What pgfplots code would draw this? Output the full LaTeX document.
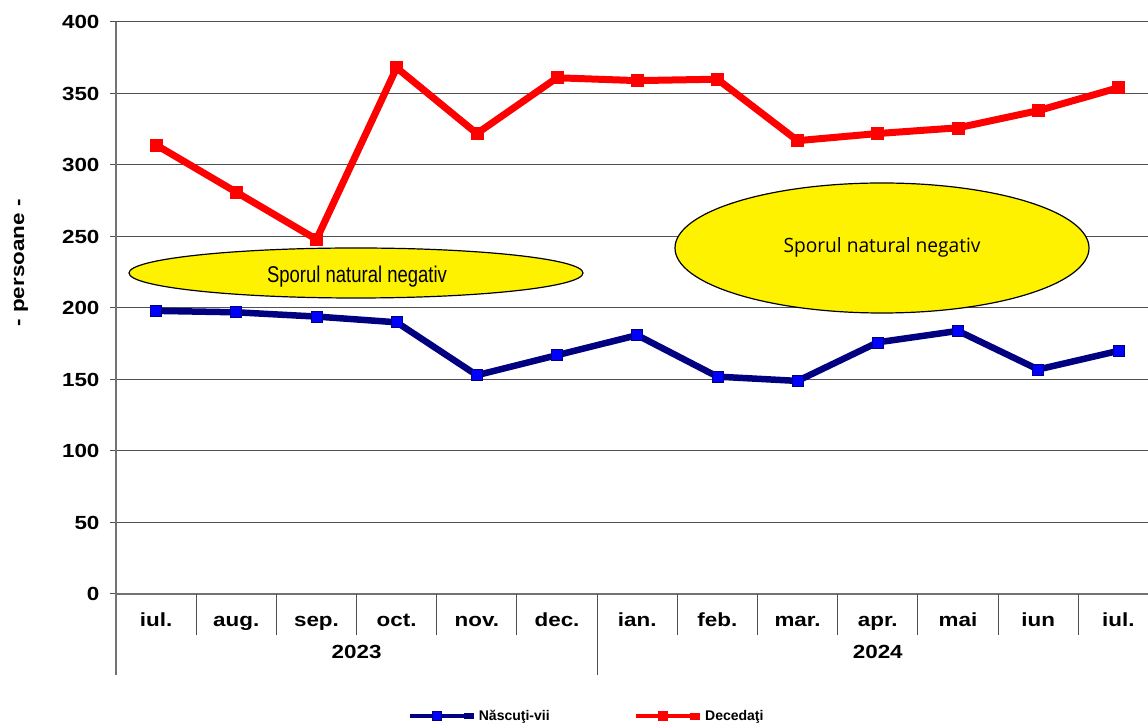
\documentclass[border=0pt]{standalone}
\usepackage{pgfplots}
\pgfplotsset{compat=1.18}
\usepackage{fontspec}
\setmainfont{Liberation Sans}
\newfontfamily\opensans{Open Sans}
\usepackage{graphicx}
\definecolor{navyb}{HTML}{000080}
\definecolor{gridc}{HTML}{505050}
\newcommand{\wide}[1]{\scalebox{1.18}[1]{#1}}
\begin{document}
\begin{tikzpicture}[x=1pt,y=1pt]
\path[use as bounding box] (0,0) rectangle (1148,725);
\begin{axis}[
  at={(116pt,131pt)}, anchor=south west,
  scale only axis, width=1032pt, height=572pt,
  xmin=-0.5, xmax=12.37, ymin=0, ymax=400,
  axis lines=left, axis line style={-, draw=gray!90!black, line width=1.8pt},
  ytick={0,50,...,400},
  ymajorgrids, grid style={gridc, line width=1pt},
  tick align=outside, ytick style={gridc, line width=1pt}, major tick length=6pt,
  yticklabel={\wide{\pgfmathprintnumber{\tick}}},
  yticklabel style={xshift=-7pt},
  xtick={0,...,12},
  xticklabels={\wide{iul.},\wide{aug.},\wide{sep.},\wide{oct.},\wide{nov.},\wide{dec.},\wide{ian.},\wide{feb.},\wide{mar.},\wide{apr.},\wide{mai},\wide{iun},\wide{iul.}},
  xtick style={draw=none},
  ticklabel style={font=\bfseries\fontsize{19}{22}\selectfont},
  xticklabel style={anchor=base, inner sep=0pt, yshift=-26pt},
  /pgf/number format/assume math mode=true,
  clip=false,
  legend style={at={(0.456,-0.2133)}, anchor=center, draw=none, fill=none,
    font=\bfseries\fontsize{14}{16}\selectfont, legend columns=2,
    /tikz/every even column/.append style={column sep=82pt},
    nodes={inner sep=2pt}},
  legend image code/.code={\draw[line width=4pt, mark size=4.5pt, mark repeat=2, mark phase=2] plot coordinates {(0pt,0pt) (27pt,0pt) (54pt,0pt)};\path (54pt,0pt) -- (64pt,0pt);},
]
\addplot[navyb, line width=6.5pt, mark=square*, mark size=5.5pt, mark options={fill=blue, draw=navyb, line width=0.6pt}] coordinates {
(0,198) (1,197) (2,194) (3,190) (4,153) (5,167) (6,181) (7,152) (8,149) (9,176) (10,184) (11,157) (12,170)};
\addlegendentry{Născuţi-vii}
\addplot[red, line width=7pt, mark=square*, mark size=6pt, mark options={fill=red, draw=red, line width=0.6pt}] coordinates {
(0,314) (1,281) (2,248) (3,368) (4,322) (5,361) (6,359) (7,360) (8,317) (9,322) (10,326) (11,338) (12,354)};
\addlegendentry{Decedaţi}
\pgfplotsinvokeforeach{0.5,1.5,2.5,3.5,4.5,6.5,7.5,8.5,9.5,10.5,11.5}{
  \draw[gridc, line width=1pt] (axis cs:#1,0) -- ([yshift=-41pt]axis cs:#1,0);
}
\draw[gridc, line width=1pt] (axis cs:5.5,0) -- ([yshift=-81pt]axis cs:5.5,0);
\draw[gray!90!black, line width=1.8pt] (axis cs:-0.5,0) -- ([yshift=-81pt]axis cs:-0.5,0);
\node[anchor=base, inner sep=0pt, font=\bfseries\fontsize{19}{22}\selectfont] at ([yshift=-64pt]axis cs:2.5,0) {\wide{2023}};
\node[anchor=base, inner sep=0pt, font=\bfseries\fontsize{19}{22}\selectfont] at ([yshift=-64pt]axis cs:9,0) {\wide{2024}};
\end{axis}
\node[rotate=90, font=\bfseries\fontsize{19}{22}\selectfont] at (21,462) {\wide{- persoane -}};
\draw[black, line width=1.2pt, fill=yellow] (356,452) ellipse [x radius=227, y radius=25];
\node[anchor=base, inner sep=0pt] at (357,442) {\resizebox{180pt}{16.5pt}{Sporul natural negativ}};
\draw[black, line width=1.2pt, fill=yellow] (882,477) ellipse [x radius=207, y radius=65];
\node[anchor=base, inner sep=0pt] at (882,472) {\resizebox{197pt}{15pt}{\opensans Sporul natural negativ}};
\end{tikzpicture}
\end{document}
